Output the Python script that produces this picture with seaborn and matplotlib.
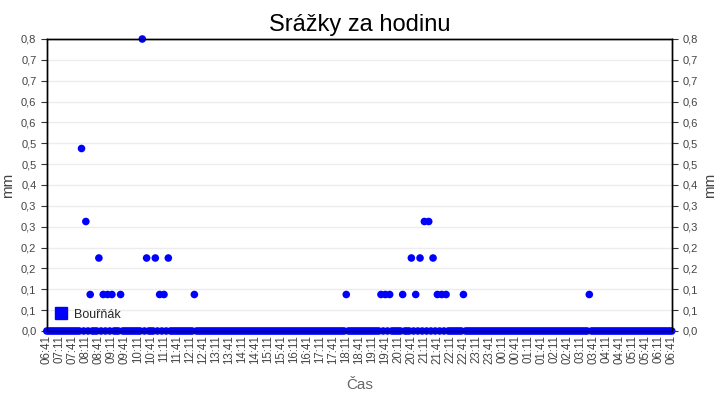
import seaborn as sns
import pandas as pd
import numpy as np
import matplotlib.pyplot as plt
from matplotlib.lines import Line2D

# data: precipitation per hour, sampled every 5 minutes from 06:41
start = '2020-06-01 06:41'
step_min = 5
rain = [
    0, 0, 0, 0, 0, 0, 0, 0, 0, 0, 0, 0, 0, 0, 0, 0, 0.5, 0, 0.3, 0, 0.1, 0, 0, 0,
    0.2, 0, 0.1, 0, 0.1, 0, 0.1, 0, 0, 0, 0.1, 0, 0, 0, 0, 0, 0, 0, 0, 0, 0.8, 0, 0.2, 0,
    0, 0, 0.2, 0, 0.1, 0, 0.1, 0, 0.2, 0, 0, 0, 0, 0, 0, 0, 0, 0, 0, 0, 0.1, 0, 0, 0,
    0, 0, 0, 0, 0, 0, 0, 0, 0, 0, 0, 0, 0, 0, 0, 0, 0, 0, 0, 0, 0, 0, 0, 0,
    0, 0, 0, 0, 0, 0, 0, 0, 0, 0, 0, 0, 0, 0, 0, 0, 0, 0, 0, 0, 0, 0, 0, 0,
    0, 0, 0, 0, 0, 0, 0, 0, 0, 0, 0, 0, 0, 0, 0, 0, 0, 0, 0.1, 0, 0, 0, 0, 0,
    0, 0, 0, 0, 0, 0, 0, 0, 0, 0, 0.1, 0, 0.1, 0, 0.1, 0, 0, 0, 0, 0, 0.1, 0, 0, 0,
    0.2, 0, 0.1, 0, 0.2, 0, 0.3, 0, 0.3, 0, 0.2, 0, 0.1, 0, 0.1, 0, 0.1, 0, 0, 0, 0, 0, 0, 0,
    0.1, 0, 0, 0, 0, 0, 0, 0, 0, 0, 0, 0, 0, 0, 0, 0, 0, 0, 0, 0, 0, 0, 0, 0,
    0, 0, 0, 0, 0, 0, 0, 0, 0, 0, 0, 0, 0, 0, 0, 0, 0, 0, 0, 0, 0, 0, 0, 0,
    0, 0, 0, 0, 0, 0, 0, 0, 0, 0, 0.1, 0, 0, 0, 0, 0, 0, 0, 0, 0, 0, 0, 0, 0,
    0, 0, 0, 0, 0, 0, 0, 0, 0, 0, 0, 0, 0, 0, 0, 0, 0, 0, 0, 0, 0, 0, 0, 0,
    0,
]
y_max = 0.8
n_yticks = 15
series_name = 'Bouřňák'

df = pd.DataFrame({
    'cas': pd.date_range(start, periods=len(rain), freq=f'{step_min}min'),
    'mm': rain,
})

sns.set_style('white')
plt.rcParams['font.family'] = ['Liberation Sans', 'DejaVu Sans']

fig = plt.figure(figsize=(7.2, 4), dpi=100)
ax = fig.add_axes([0.065, 0.1725, 0.868, 0.73])

sns.scatterplot(data=df, x='cas', y='mm', ax=ax, color='#0000ff', s=30,
                edgecolor='none', legend=False, clip_on=False, zorder=3)

ax.set_xlim(df['cas'].iloc[0], df['cas'].iloc[-1])
ax.set_ylim(0, y_max)

xt = pd.date_range(df['cas'].iloc[0], df['cas'].iloc[-1], freq='30min')
ax.set_xticks(xt)
ax.set_xticklabels([t.strftime('%H:%M') for t in xt], rotation=90,
                   fontsize=8.3, color='#444444')
ax.tick_params(axis='x', direction='in', length=7, width=0.8, color='#333333', pad=3)

yt = np.linspace(0, y_max, n_yticks)
ylab = [f'{v:.1f}'.replace('.', ',') for v in yt]
ax.set_yticks(yt)
ax.set_yticklabels(ylab, fontsize=8, color='#444444')
ax.tick_params(axis='y', direction='out', length=4, width=0.8, color='#333333', left=True)
ax.grid(axis='y', color='#ececec', lw=1)
ax.set_axisbelow(True)

ax2 = ax.twinx()
ax2.set_ylim(0, y_max)
ax2.set_yticks(yt)
ax2.set_yticklabels(ylab, fontsize=8, color='#444444')
ax2.tick_params(axis='y', direction='out', length=4, width=0.8, color='#333333', right=True)
ax2.set_ylabel('mm', fontsize=11, color='#444444')

for a in (ax, ax2):
    for s in a.spines.values():
        s.set_color('black')
        s.set_linewidth(1)

ax.set_ylabel('mm', fontsize=11, color='#444444')
ax.set_xlabel('Čas', fontsize=11, color='#666666', labelpad=10)
ax.set_title('Srážky za hodinu', fontsize=17, pad=6, color='black')

handle = Line2D([], [], marker='s', color='#0000ff', linestyle='none', markersize=8)
ax.legend([handle], [series_name], loc='lower left', frameon=False, fontsize=9,
          handletextpad=0.6, handlelength=1.0, borderaxespad=0.2,
          bbox_to_anchor=(0.0, 0.01))

fig.savefig('out.png', dpi=100)
